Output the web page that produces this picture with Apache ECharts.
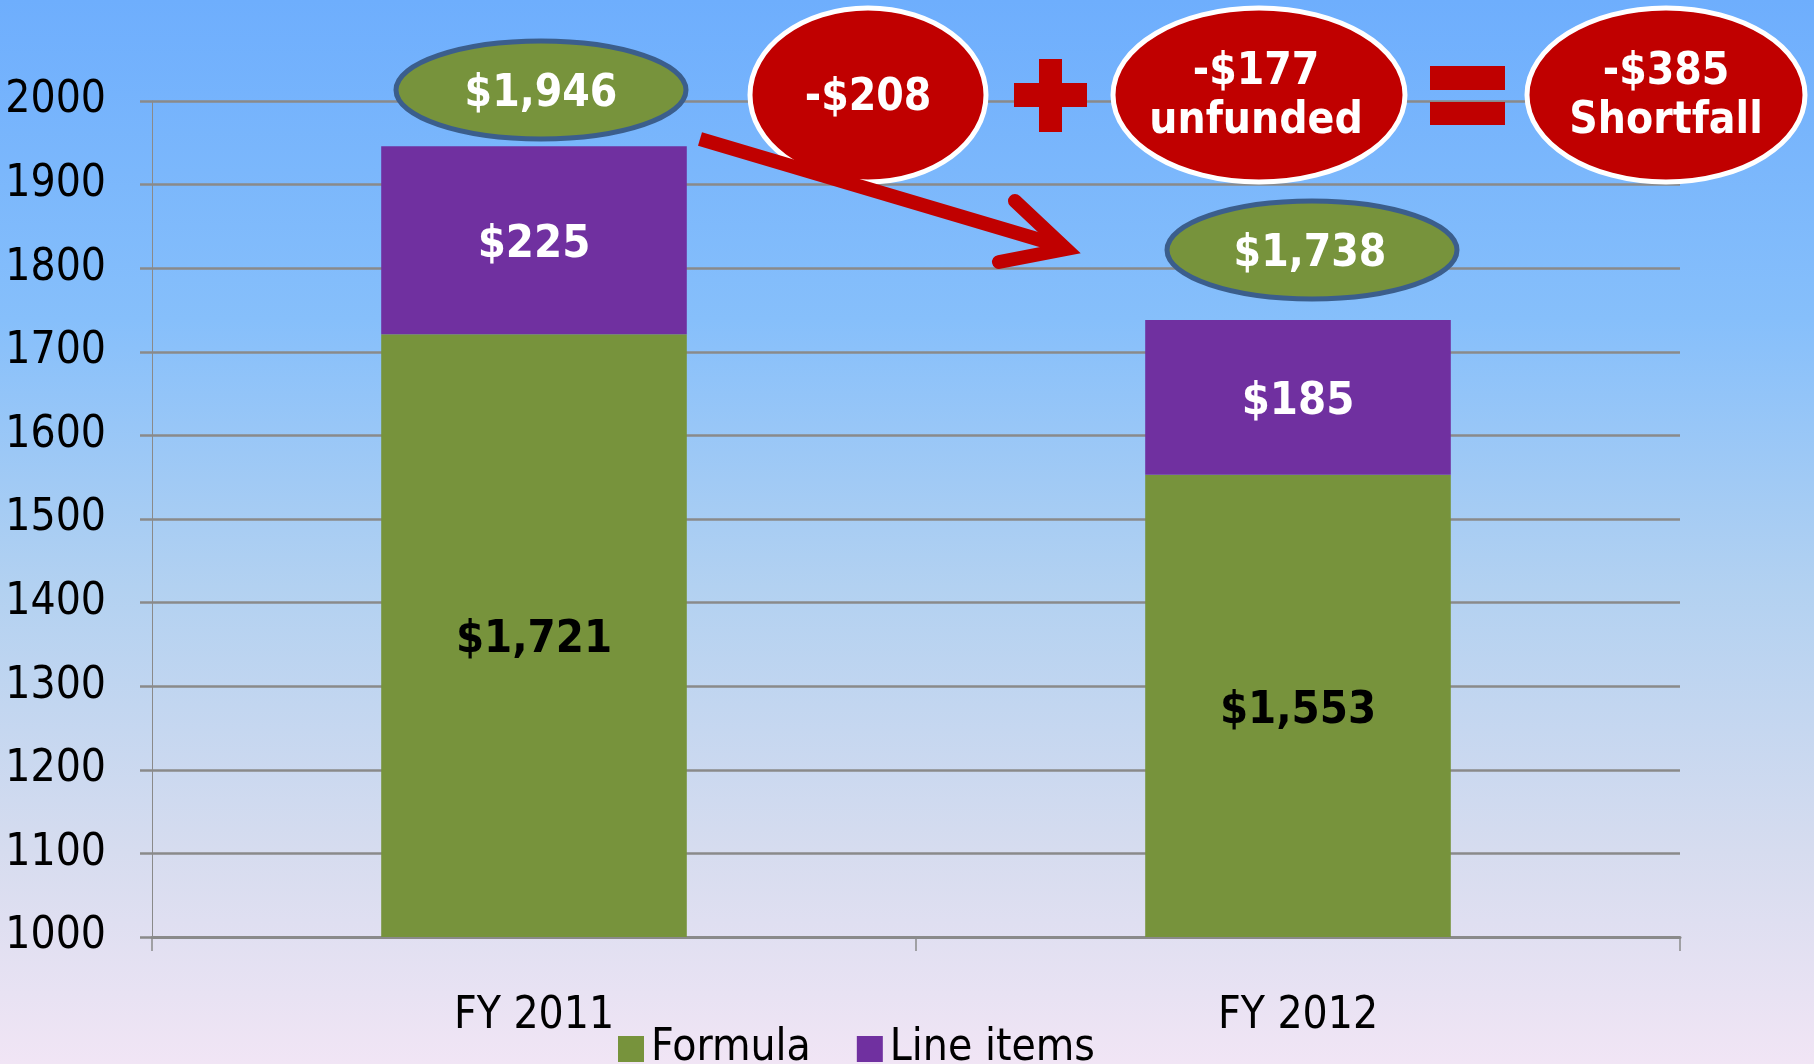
<!DOCTYPE html>
<html>
<head>
<meta charset="utf-8">
<script src="https://cdn.jsdelivr.net/npm/echarts@6/dist/echarts.min.js"></script>
<style>
  html, body { margin: 0; padding: 0; }
  #main {
    width: 1814px;
    height: 1064px;
    background: linear-gradient(to bottom, #6eaefd 0%, #86bffb 30%, #b2d1f1 55%, #d6dcef 80%, #f1e5f5 100%);
  }
</style>
</head>
<body>
<div id="main"></div>
<script>
// data
var categories = ["FY 2011", "FY 2012"];
var formula = [1721, 1553];
var lineItems = [225, 185];
var yTicks = [1000, 1100, 1200, 1300, 1400, 1500, 1600, 1700, 1800, 1900, 2000];
var cutAmount = -208;
var unfunded = -177;
var shortfall = -385;

var FONT = "'Liberation Sans Narrow', 'DejaVu Sans Condensed', 'Liberation Sans', sans-serif";
var GRID_GRAY = "#8a8a8a";
var GREEN = "#77933c";
var PURPLE = "#7030a0";
var RED = "#c00000";

function money(v) {
  var s = Math.abs(v).toLocaleString("en-US");
  return (v < 0 ? "-$" : "$") + s;
}

var totals = formula.map(function (v, i) { return v + lineItems[i]; });

var chart = echarts.init(document.getElementById("main"));

// annotation shapes sit above the grid lines
function onTop(el) { el.z = 100; return el; }

var option = {
  backgroundColor: "transparent",
  animation: false,
  grid: { left: 152, right: 134, top: 101, bottom: 127, outerBoundsMode: "none", containLabel: false },
  legend: {
    left: 613,
    top: 1022,
    itemWidth: 26,
    itemHeight: 26,
    itemGap: 46,
    icon: "rect",
    textStyle: { fontFamily: FONT, fontSize: 44, color: "#000", padding: [0, 0, 0, 2] },
    data: ["Formula", "Line items"]
  },
  xAxis: {
    type: "category",
    data: categories,
    boundaryGap: true,
    axisLine: { lineStyle: { color: GRID_GRAY, width: 3 } },
    axisTick: { show: true, length: 14, lineStyle: { color: GRID_GRAY, width: 1.5 } },
    axisLabel: { fontFamily: FONT, fontSize: 44, color: "#000", margin: 58 }
  },
  yAxis: {
    type: "value",
    min: yTicks[0],
    max: yTicks[yTicks.length - 1],
    interval: 100,
    axisLine: { show: true, lineStyle: { color: GRID_GRAY, width: 1 } },
    axisTick: { show: true, length: 12, lineStyle: { color: GRID_GRAY, width: 2.5 } },
    axisLabel: {
      fontFamily: FONT, fontSize: 44, color: "#000", margin: 46,
      padding: [7, 0, 0, 0],
      formatter: function (v) { return String(v); }
    },
    splitLine: { lineStyle: { color: GRID_GRAY, width: 2.5 } }
  },
  series: [
    {
      name: "Formula",
      type: "bar",
      stack: "total",
      barWidth: "40%",
      data: formula,
      itemStyle: { color: GREEN },
      label: {
        show: true,
        position: "inside",
        offset: [0, 5],
        formatter: function (p) { return money(p.value); },
        fontFamily: FONT,
        fontWeight: "bold",
        fontSize: 45,
        color: "#000"
      }
    },
    {
      name: "Line items",
      type: "bar",
      stack: "total",
      barWidth: "40%",
      data: lineItems,
      itemStyle: { color: PURPLE },
      label: {
        show: true,
        position: "inside",
        offset: [0, 5],
        formatter: function (p) { return money(p.value); },
        fontFamily: FONT,
        fontWeight: "bold",
        fontSize: 45,
        color: "#fff"
      }
    }
  ],
  graphic: [
    // total ovals
    { type: "ellipse", shape: { cx: 541, cy: 90, rx: 145, ry: 49 },
      style: { fill: GREEN, stroke: "#3b5e8c", lineWidth: 5 } },
    { type: "text", x: 541, y: 95,
      style: { text: money(totals[0]), fill: "#fff", font: "bold 44px " + FONT, align: "center", verticalAlign: "middle" } },
    { type: "ellipse", shape: { cx: 1312, cy: 250, rx: 145, ry: 49 },
      style: { fill: GREEN, stroke: "#3b5e8c", lineWidth: 5 } },
    { type: "text", x: 1310, y: 255,
      style: { text: money(totals[1]), fill: "#fff", font: "bold 44px " + FONT, align: "center", verticalAlign: "middle" } },

    // red equation ovals
    { type: "ellipse", shape: { cx: 868, cy: 95, rx: 118, ry: 87 },
      style: { fill: RED, stroke: "#fff", lineWidth: 5 } },
    { type: "text", x: 868, y: 99,
      style: { text: money(cutAmount), fill: "#fff", font: "bold 44px " + FONT, align: "center", verticalAlign: "middle" } },
    { type: "ellipse", shape: { cx: 1259, cy: 95, rx: 146, ry: 87 },
      style: { fill: RED, stroke: "#fff", lineWidth: 5 } },
    { type: "text", x: 1256, y: 97,
      style: { text: money(unfunded) + "\nunfunded", fill: "#fff", font: "bold 44px " + FONT, lineHeight: 49, align: "center", verticalAlign: "middle" } },
    { type: "ellipse", shape: { cx: 1666, cy: 95, rx: 139, ry: 87 },
      style: { fill: RED, stroke: "#fff", lineWidth: 5 } },
    { type: "text", x: 1666, y: 97,
      style: { text: money(shortfall) + "\nShortfall", fill: "#fff", font: "bold 44px " + FONT, lineHeight: 49, align: "center", verticalAlign: "middle" } },

    // plus sign
    { type: "rect", shape: { x: 1039, y: 59, width: 23, height: 73 }, style: { fill: RED } },
    { type: "rect", shape: { x: 1014, y: 83, width: 73, height: 24 }, style: { fill: RED } },
    // equals sign
    { type: "rect", shape: { x: 1430, y: 66, width: 75, height: 24 }, style: { fill: RED } },
    { type: "rect", shape: { x: 1430, y: 102, width: 75, height: 23 }, style: { fill: RED } },

    // arrow
    { type: "polyline", shape: { points: [[700, 139], [1064, 247]] },
      style: { stroke: RED, lineWidth: 14, fill: null } },
    { type: "polyline", shape: { points: [[1015, 201], [1066, 249], [999, 262]] },
      style: { stroke: RED, lineWidth: 14, fill: null, lineJoin: "miter", lineCap: "round" } }
  ].map(onTop)
};

chart.setOption(option);
</script>
</body>
</html>
